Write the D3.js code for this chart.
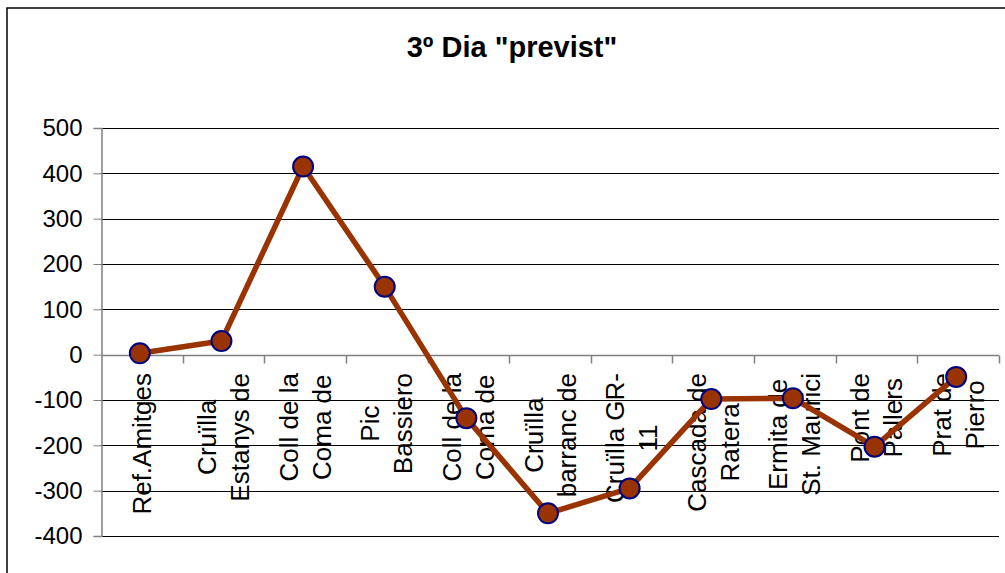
<!DOCTYPE html>
<html>
<head>
<meta charset="utf-8">
<script src="https://cdn.jsdelivr.net/npm/d3@7"></script>
<style>
  body { margin: 0; background: #fff; }
  text { font-family: "Liberation Sans", Arial, sans-serif; }
</style>
</head>
<body>
<svg id="chart" width="1005" height="573"></svg>
<script>
// data
var categories = [
    ["Ref.Amitges"],
    ["Cruïlla", "Estanys de"],
    ["Coll de la", "Coma de"],
    ["Pic", "Bassiero"],
    ["Coll de la", "Coma de"],
    ["Cruïlla", "barranc de"],
    ["Cruïlla GR-", "11"],
    ["Cascada de", "Ratera"],
    ["Ermita de", "St. Maurici"],
    ["Pont de", "Pallers"],
    ["Prat de", "Pierro"]
];
var values = [3, 30, 415, 150, -140, -350, -295, -98, -96, -203, -49];
var yTicks = [500, 400, 300, 200, 100, 0, -100, -200, -300, -400];
var title = '3º Dia "previst"';

var svg = d3.select("#chart");

// outer frame
svg.append("rect")
    .attr("x", 7).attr("y", 8)
    .attr("width", 1200).attr("height", 1000)
    .attr("fill", "none")
    .attr("stroke", "#000")
    .attr("stroke-width", 1.5);

svg.append("text")
    .attr("x", 512).attr("y", 57)
    .attr("text-anchor", "middle")
    .attr("font-size", 29)
    .attr("font-weight", "bold")
    .text(title);

var left = 101, right = 999;
var idx = d3.range(categories.length);

var x = d3.scaleBand().domain(idx).range([left, right]);
var y = d3.scaleLinear().domain([-400, 500]).range([536, 128]);

// horizontal gridlines
svg.append("g")
    .selectAll("line")
    .data(yTicks)
    .enter().append("line")
    .attr("x1", left).attr("x2", right)
    .attr("y1", function (d) { return Math.round(y(d)) + 0.5; })
    .attr("y2", function (d) { return Math.round(y(d)) + 0.5; })
    .attr("stroke", "#000")
    .attr("stroke-width", 1);

// y axis
var yAxis = svg.append("g")
    .attr("transform", "translate(" + (left + 0.5) + ",0)")
    .call(d3.axisLeft(y).tickValues(yTicks).tickSize(8).tickPadding(11).tickFormat(function (d) { return String(d); }));
yAxis.select(".domain").attr("stroke", "#808080").attr("stroke-width", 1.5);
yAxis.selectAll(".tick line").attr("stroke", "#808080");
yAxis.selectAll(".tick text")
    .attr("font-size", 24)
    .attr("fill", "#000")
    .style("font-family", "Liberation Sans, Arial, sans-serif");

// x axis at zero with boundary ticks
var y0 = Math.round(y(0)) + 0.5;
svg.append("line")
    .attr("x1", left).attr("x2", right)
    .attr("y1", y0).attr("y2", y0)
    .attr("stroke", "#808080")
    .attr("stroke-width", 1.5);
svg.append("g")
    .selectAll("line")
    .data(d3.range(1, categories.length + 1))
    .enter().append("line")
    .attr("x1", function (d) { return Math.round(left + d * x.step()) + 0.5; })
    .attr("x2", function (d) { return Math.round(left + d * x.step()) + 0.5; })
    .attr("y1", y0).attr("y2", y0 + 8)
    .attr("stroke", "#808080")
    .attr("stroke-width", 1.5);

// category labels, rotated and wrapped
var lineGap = 33;
var labels = svg.append("g")
    .selectAll("g")
    .data(idx)
    .enter().append("g")
    .attr("transform", function (i) {
        return "translate(" + (x(i) + x.bandwidth() / 2) + ",373) rotate(-90)";
    });

labels.each(function (i) {
    var g = d3.select(this);
    var lines = categories[i];
    var n = lines.length;
    var texts = lines.map(function (s, k) {
        return g.append("text")
            .attr("font-size", 26)
            .attr("text-anchor", "middle")
            .attr("y", 9 + (k - (n - 1) / 2) * lineGap)
            .text(s);
    });
    var maxLen = d3.max(texts, function (t) { return t.node().getComputedTextLength(); });
    texts.forEach(function (t) { t.attr("x", -maxLen / 2); });
});

// the line and markers
var px = function (d, i) { return x(i) + x.bandwidth() / 2 - 2; };
var line = d3.line().x(px).y(function (d) { return y(d); });

svg.append("path")
    .datum(values)
    .attr("d", line)
    .attr("fill", "none")
    .attr("stroke", "#993300")
    .attr("stroke-width", 5.5)
    .attr("stroke-linejoin", "round");

svg.append("g")
    .selectAll("circle")
    .data(values)
    .enter().append("circle")
    .attr("cx", px)
    .attr("cy", function (d) { return y(d); })
    .attr("r", 10)
    .attr("fill", "#993300")
    .attr("stroke", "#000080")
    .attr("stroke-width", 2);
</script>
</body>
</html>
